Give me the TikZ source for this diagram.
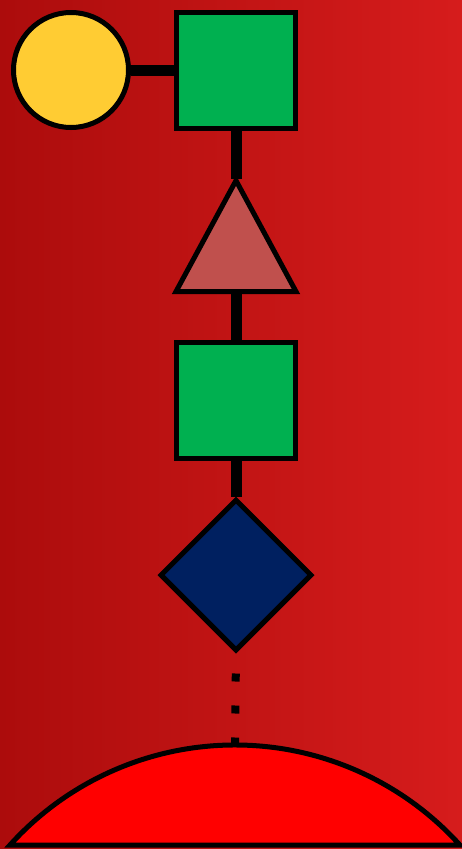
\documentclass[tikz,border=0pt]{standalone}
\usepackage{tikz}
\usetikzlibrary{shapes.geometric,positioning}
\definecolor{galyellow}{HTML}{FFCC33}
\definecolor{glcgreen}{HTML}{00B050}
\definecolor{fucred}{HTML}{C0504D}
\definecolor{sianavy}{HTML}{002060}
\definecolor{bgdark}{RGB}{172,12,12}
\definecolor{bglight}{RGB}{214,28,28}

\begin{document}
\begin{tikzpicture}[x=1pt,y=-1pt,
  sugar/.style={draw=black,line width=5pt,inner sep=0pt},
  bond/.style={line width=11pt}]
\shade[left color=bgdark,right color=bglight] (0,0) rectangle (462,849);
\useasboundingbox (0,0) rectangle (462,849);
\node[sugar,circle,fill=galyellow,minimum size=115pt] (gal) at (71,70) {};
\node[sugar,rectangle,fill=glcgreen,minimum width=119pt,minimum height=116pt] (glcA) at (236,70) {};
\node[sugar,isosceles triangle,shape border rotate=90,isosceles triangle stretches,
  fill=fucred,minimum width=120pt,minimum height=111pt,anchor=apex] (fuc) at (236,174) {};
\node[sugar,rectangle,fill=glcgreen,minimum width=119pt,minimum height=116pt] (glcB) at (236,400) {};
\node[sugar,diamond,fill=sianavy,minimum width=152pt,minimum height=152pt] (sia) at (236,575) {};
\coordinate (core) at (235,745);
\draw[sugar,fill=red] (10,845) arc[start angle=137.94,end angle=42.06,radius=303pt] -- cycle;
\draw[bond] (gal.east) -- (glcA.west);
\draw[bond] (glcA.south) -- ([yshift=-5pt]fuc.apex);
\draw[bond] (fuc.lower side) -- (glcB.north);
\draw[bond] (glcB.south) -- (sia.north);
\draw[line width=8pt,dash pattern=on 8pt off 24pt,dash phase=12pt] (sia.south) -- (core);
\end{tikzpicture}
\end{document}
